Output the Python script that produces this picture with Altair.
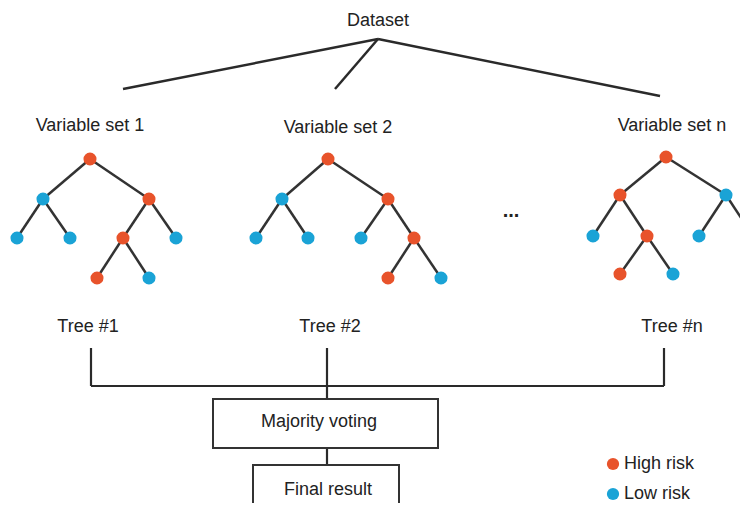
import altair as alt
import pandas as pd

# ---- data (layout coordinates in picture pixels) ----
tree_names = ["Tree #1", "Tree #2", "Tree #n"]
set_names = ["Variable set 1", "Variable set 2", "Variable set n"]

# tree 1
t1_x = [90, 43, 149, 17, 70, 123, 176, 97, 149]
t1_y = [159, 199, 199, 238, 238, 238, 238, 278, 278]
t1_risk = ["High", "Low", "High", "Low", "Low", "High", "Low", "High", "Low"]
t1_parent = [-1, 0, 0, 1, 1, 2, 2, 5, 5]
# tree 2
t2_x = [328, 282, 388, 256, 308, 361, 414, 388, 441]
t2_y = [159, 199, 199, 238, 238, 238, 238, 278, 278]
t2_risk = ["High", "Low", "High", "Low", "Low", "Low", "High", "High", "Low"]
t2_parent = [-1, 0, 0, 1, 1, 2, 2, 6, 6]
# tree n
tn_x = [666, 620, 726, 593, 647, 699, 753, 620, 673]
tn_y = [157, 195, 195, 236, 236, 236, 236, 274, 274]
tn_risk = ["High", "High", "Low", "Low", "High", "Low", "Low", "High", "Low"]
tn_parent = [-1, 0, 0, 1, 1, 2, 2, 4, 4]

# dataset split lines
root_xy = (378, 39)
split_end_x = [123, 335, 660]
split_end_y = [89, 89, 96]

# labels
label_text = ["Dataset", "Variable set 1", "Variable set 2", "Variable set n",
              "Tree #1", "Tree #2", "Tree #n", "Majority voting", "Final result"]
label_x = [378, 90, 338, 672, 88, 330, 672, 319, 328]
label_y = [21, 126, 128, 126, 327, 327, 327, 422, 490]

ellipsis_x = [511]
ellipsis_y = [211]

# voting bracket
bracket_x = [91, 327, 664, 91, 327]
bracket_y = [348, 348, 348, 386, 448]
bracket_x2 = [91, 327, 664, 664, 327]
bracket_y2 = [386, 399, 386, 386, 465]

# boxes
box_x = [213, 253]
box_y = [399, 465]
box_x2 = [438, 399]
box_y2 = [448, 530]

# legend
legend_labels = ["High risk", "Low risk"]
legend_risk = ["High", "Low"]
legend_x = [613, 613]
legend_y = [464, 494]

# ---- build tables ----
nodes = []
edges = []
for xs_, ys_, rs, ps in [(t1_x, t1_y, t1_risk, t1_parent),
                         (t2_x, t2_y, t2_risk, t2_parent),
                         (tn_x, tn_y, tn_risk, tn_parent)]:
    for i in range(len(xs_)):
        nodes.append({"x": xs_[i], "y": ys_[i], "risk": rs[i]})
        if ps[i] >= 0:
            p = ps[i]
            edges.append({"x": xs_[p], "y": ys_[p], "x2": xs_[i], "y2": ys_[i]})
nodes_df = pd.DataFrame(nodes)
edges_df = pd.DataFrame(edges)

split_df = pd.DataFrame({"x": [root_xy[0]] * 3, "y": [root_xy[1]] * 3,
                         "x2": split_end_x, "y2": split_end_y})
labels_df = pd.DataFrame({"text": label_text, "x": label_x, "y": label_y})
ell_df = pd.DataFrame({"text": ["..."], "x": ellipsis_x, "y": ellipsis_y})
bracket_df = pd.DataFrame({"x": bracket_x, "y": bracket_y, "x2": bracket_x2, "y2": bracket_y2})
box_df = pd.DataFrame({"x": box_x, "y": box_y, "x2": box_x2, "y2": box_y2})
legend_df = pd.DataFrame({"label": legend_labels, "risk": legend_risk,
                          "x": legend_x, "y": legend_y})

W, H = 732, 495
xs = alt.Scale(domain=[8, 8 + W], nice=False, zero=False)
ys = alt.Scale(domain=[8, 8 + H], nice=False, zero=False, reverse=True)
X = lambda f="x": alt.X(f"{f}:Q", scale=xs, axis=None)
Y = lambda f="y": alt.Y(f"{f}:Q", scale=ys, axis=None)
color = alt.Color("risk:N", scale=alt.Scale(domain=["High", "Low"],
                                            range=["#E8532B", "#1AA3D6"]), legend=None)
FONT = "Liberation Sans"

split = alt.Chart(split_df).mark_rule(color="#2a2a2a", strokeWidth=2.5, clip=True).encode(
    x=X(), y=Y(), x2="x2:Q", y2="y2:Q")
edge = alt.Chart(edges_df).mark_rule(color="#333333", strokeWidth=2.5, clip=True).encode(
    x=X(), y=Y(), x2="x2:Q", y2="y2:Q")
node = alt.Chart(nodes_df).mark_circle(size=170, opacity=1, clip=True).encode(
    x=X(), y=Y(), color=color)
bracket = alt.Chart(bracket_df).mark_rule(color="#2a2a2a", strokeWidth=2.2, clip=True).encode(
    x=X(), y=Y(), x2="x2:Q", y2="y2:Q")
boxes = alt.Chart(box_df).mark_rect(fill="white", stroke="#333333", strokeWidth=2, clip=True).encode(
    x=X(), y=Y(), x2="x2:Q", y2="y2:Q")
labels = alt.Chart(labels_df).mark_text(font=FONT, fontSize=18, color="#222222",
                                        align="center", baseline="middle", clip=True).encode(
    x=X(), y=Y(), text="text:N")
ell = alt.Chart(ell_df).mark_text(font=FONT, fontSize=20, fontWeight="bold", color="#222222",
                                  align="center", baseline="middle", clip=True).encode(
    x=X(), y=Y(), text="text:N")
leg_dot = alt.Chart(legend_df).mark_circle(size=150, opacity=1, clip=True).encode(
    x=X(), y=Y(), color=color)
leg_txt = alt.Chart(legend_df).mark_text(font=FONT, fontSize=18, color="#222222",
                                         align="left", baseline="middle", dx=11, clip=True).encode(
    x=X(), y=Y(), text="label:N")

chart = alt.layer(split, edge, node, bracket, boxes, labels, ell, leg_dot, leg_txt).properties(
    width=W, height=H, padding=0, background="white",
    autosize=alt.AutoSizeParams(type="fit", contains="padding")
).configure_view(stroke=None)

chart.save("out.html", embed_options={"renderer": "svg", "actions": False})
